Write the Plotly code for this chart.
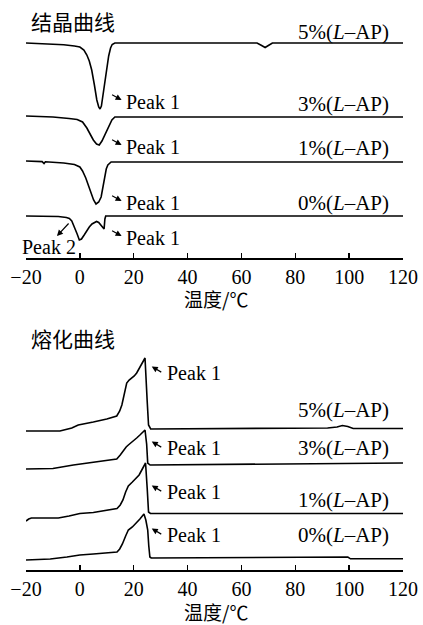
import plotly.graph_objects as go

# ---------------- data ----------------
series_names = ["5%", "3%", "1%", "0%"]
x_ticks = [-20, 0, 20, 40, 60, 80, 100, 120]

# Crystallization curves (temperature, relative heat-flow deviation)
T_c5 = [-20, -12, -6, -2, 0, 1.5, 2.6, 3.5, 4.4, 5.4, 6.3, 7.0, 7.5, 8.0, 8.7, 9.4, 10.0, 10.7, 11.4, 12.0, 13.0, 65.8, 67.5, 68.8, 70.0, 71.5, 120]
d_c5 = [0, -0.8, -1.7, -3, -4, -7, -12, -18, -27, -42, -57, -64, -66, -63, -50, -35, -24, -13, -5, -1.5, 0, 0, -2.5, -4.5, -2.5, 0, 0]
T_c3 = [-20, -10, -4, -1, 1, 2.6, 4, 5, 6.2, 7.2, 8.2, 9.6, 10.8, 11.9, 13, 120]
d_c3 = [1, 0, -1.5, -2.5, -5, -11, -18, -23, -27, -28, -24, -16, -8, -3, 0, 0]
T_c1 = [-20, -14, -13.3, -12.8, -6, -2, 0, 1, 2.2, 3.1, 4.1, 5.1, 6.0, 7.0, 7.9, 8.5, 9.1, 9.8, 10.4, 11.6, 120]
d_c1 = [1, 0.4, -1.5, 0.2, -1, -2.5, -5, -9, -16, -23, -31, -38, -42, -40, -35, -26, -15, -7, -3, 0, 0]
T_c0 = [-20, -8, -5, -3.9, -3, -2, -1, -0.2, 0.6, 1.6, 2.5, 3.5, 4.5, 5.5, 6.2, 7.0, 7.9, 8.6, 9.0, 9.3, 9.6, 120]
d_c0 = [0, -0.5, -1.5, -2.5, -5, -11, -18, -24, -23, -19, -15, -11, -8, -6, -5.5, -6.5, -9, -12, -13, -3, 0, 0]
offset_cry = [215, 141, 96, 42]

# Melting curves
T_m5 = [-20, -7.4, -3, -0.6, 5, 10, 13.7, 14.8, 15.6, 16.5, 17.4, 18.3, 19.3, 20.2, 21.1, 22.2, 23.0, 23.7, 24.2, 25.0, 25.5, 26.3, 60, 92, 95.5, 97.5, 99.5, 101.5, 120]
d_m5 = [0, 0, 3, 6, 9, 12, 15, 20, 26, 38, 48, 51, 53, 55, 58, 63, 68, 71, 73, 30, 6, 2, 2.5, 3, 4, 5.5, 4.5, 2.5, 2.5]
T_m3 = [-20, -10, -2.4, 2.6, 8, 13.7, 15, 16.2, 17.2, 18, 19.5, 21.1, 22.3, 23.4, 24.2, 24.8, 25.2, 26.1, 60, 120]
d_m3 = [0, 0.5, 4, 6, 8, 10, 14, 19, 22, 24, 27, 31, 34, 37, 39, 25, 6, 4, 4.5, 6]
T_m1 = [-20, -19, -18, -8, -4, 0, 5, 10, 13.8, 15, 16, 17, 18, 19.5, 21, 22, 23, 23.8, 24.4, 25, 25.5, 26.2, 120]
d_m1 = [-3, -1, 0, 0, 2, 4.5, 5.5, 7.5, 9.5, 13, 18, 26, 32, 36, 40, 43, 48, 52, 55, 30, 6, 4.5, 4.5]
T_m0 = [-20, -11, -4.8, 0, 5, 10, 13.8, 14.8, 15.8, 17, 18, 19.5, 21, 22.3, 23.2, 23.8, 24.5, 25.2, 25.6, 26, 26.5, 94, 99.5, 100.5, 120]
d_m0 = [0, 1, 3, 5, 6, 7, 8, 11, 16, 24, 30, 33, 37, 41, 44, 46, 40, 30, 14, 3, 2, 3, 3, 1.2, 1.2]
offset_mel = [139, 101, 52, 10]

# label positions (level on each panel)
cry_label_y = [226, 154, 110, 55]
cry_peak_y = [156, 111, 55, 20]
mel_label_y = [160, 122, 70, 35]
mel_peak_y = [197, 122, 78, 35]
label_T = 115.5
peak_text_T = 16.4
mel_peak_text_T = 31.6

# ---------------- figure ----------------
SERIF = "Liberation Serif"
CJK = "Noto Sans CJK SC"
W, H = 423, 625


def px_x(p):
    return p / W


def px_y(p):
    return 1 - p / H


fig = go.Figure()
cry = [(T_c5, d_c5), (T_c3, d_c3), (T_c1, d_c1), (T_c0, d_c0)]
mel = [(T_m5, d_m5), (T_m3, d_m3), (T_m1, d_m1), (T_m0, d_m0)]
for (T, d), off in zip(cry, offset_cry):
    fig.add_trace(go.Scatter(x=T, y=[v + off for v in d], mode="lines",
                             line=dict(color="black", width=1.6), xaxis="x", yaxis="y",
                             showlegend=False, hoverinfo="skip"))
for (T, d), off in zip(mel, offset_mel):
    fig.add_trace(go.Scatter(x=T, y=[v + off for v in d], mode="lines",
                             line=dict(color="black", width=1.6), xaxis="x2", yaxis="y2",
                             showlegend=False, hoverinfo="skip"))

ann = []


def txt(x, y, s, xref, yref, anchor="left", size=20, font=SERIF):
    ann.append(dict(x=x, y=y, xref=xref, yref=yref, text=s, showarrow=False,
                    xanchor=anchor, yanchor="middle",
                    font=dict(family=font, size=size, color="black")))


def arrow(x, y, ax, ay, xref, yref):
    ann.append(dict(x=x, y=y, xref=xref, yref=yref, text="", showarrow=True,
                    ax=ax, ay=ay, arrowhead=2, arrowsize=1, arrowwidth=1.2,
                    arrowcolor="black", standoff=0, startstandoff=0))


for name, yl, yp in zip(series_names, cry_label_y, cry_peak_y):
    txt(label_T, yl, name + "(<i>L</i>–AP)", "x", "y", anchor="right", size=21)
    txt(peak_text_T, yp, "Peak 1", "x", "y")
    arrow(15.5, yp + 2, -11, -6, "x", "y")
txt(-11.5, 11, "Peak 2", "x", "y", anchor="center")
arrow(-8.5, 22, 13, -14, "x", "y")

for name, yl, yp in zip(series_names, mel_label_y, mel_peak_y):
    txt(label_T, yl, name + "(<i>L</i>–AP)", "x2", "y2", anchor="right", size=21)
    txt(mel_peak_text_T, yp, "Peak 1", "x2", "y2")
    arrow(26.7, yp + 6.5, 11, 6.5, "x2", "y2")

txt(px_x(29), px_y(21), "结晶曲线", "paper", "paper", size=21, font=CJK)
txt(px_x(29), px_y(338), "熔化曲线", "paper", "paper", size=21, font=CJK)
txt(px_x(216), px_y(299), "温度/℃", "paper", "paper", anchor="center", size=19, font=CJK)
txt(px_x(216), px_y(611), "温度/℃", "paper", "paper", anchor="center", size=19, font=CJK)

xdom = [px_x(26), px_x(403)]
xax = dict(domain=xdom, range=[-20, 120], tickvals=x_ticks, ticks="inside", ticklen=5,
           tickwidth=1.5, tickcolor="black", showline=True, linewidth=1.5, linecolor="black",
           showgrid=False, zeroline=False, automargin=False, ticklabelstandoff=0,
           fixedrange=True, tickfont=dict(family=SERIF, size=20, color="black"))
fig.update_layout(
    width=W, height=H, margin=dict(l=0, r=0, t=0, b=0, pad=0, autoexpand=False),
    paper_bgcolor="white", plot_bgcolor="white", showlegend=False, hovermode=False,
    xaxis=dict(**xax, anchor="y"),
    yaxis=dict(domain=[px_y(258), px_y(20)], range=[0, 238], visible=False, fixedrange=True),
    xaxis2=dict(**xax, anchor="y2"),
    yaxis2=dict(domain=[px_y(570), px_y(345)], range=[0, 225], visible=False, fixedrange=True),
    annotations=ann,
)
fig.write_html("out.html", config={"displayModeBar": False, "staticPlot": True},
               post_script="document.body.style.margin='0';document.body.style.overflow='hidden';")
